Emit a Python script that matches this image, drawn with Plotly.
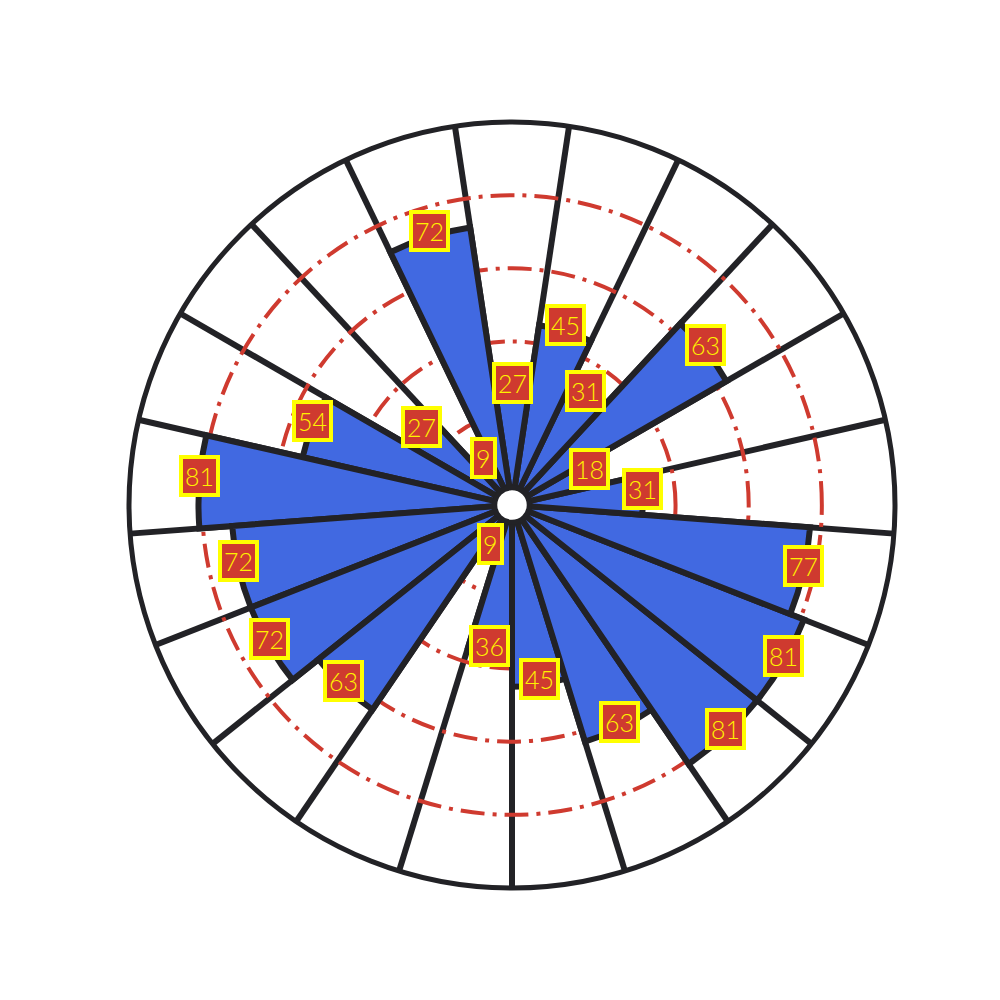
import math
import plotly.graph_objects as go

# Data (sectors start at the bottom and run counter-clockwise)
values = [45, 63, 81, 81, 77, 31, 18, 63, 31, 45, 27, 72, 9, 27, 54, 81, 72, 72, 63, 9, 36]
labels = [str(v) for v in values]
radial_ticks = [20, 40, 60, 80]
r_max = 100
start_angle = -90

n = len(values)
sector = 360 / n
thetas = [start_angle + (i + 0.5) * sector for i in range(n)]
boundaries = [(start_angle + i * sector) % 360 for i in range(n)]

DARK = "#222226"
RED = "#cf3a2f"
YELLOW = "#ffff00"
BLUE = "#4169E1"
HOLE = 0.045

fig = go.Figure(
    go.Barpolar(
        r=values,
        theta=thetas,
        width=[sector] * n,
        marker=dict(color=BLUE, line=dict(color=DARK, width=6)),
        hoverinfo="skip",
    )
)

annotations = []
for v, t, lab in zip(values, thetas, labels):
    rf = HOLE + (1 - HOLE) * v / r_max
    a = math.radians(t)
    annotations.append(dict(
        x=0.5 + 0.5 * rf * math.cos(a),
        y=0.5 + 0.5 * rf * math.sin(a),
        xref="paper", yref="paper",
        text=lab, showarrow=False, yshift=6,
        bgcolor=RED, bordercolor=YELLOW, borderwidth=4, borderpad=2,
        font=dict(color="#fff200", size=25, family="Lato", weight=300),
        xanchor="center", yanchor="middle",
    ))

fig.update_layout(
    width=1000, height=1000,
    margin=dict(l=121, r=113, t=114, b=120),
    paper_bgcolor="white",
    showlegend=False,
    annotations=annotations,
    polar=dict(
        domain=dict(x=[0, 1], y=[0, 1]),
        hole=HOLE,
        bgcolor="white",
        radialaxis=dict(
            range=[0, r_max], tickvals=radial_ticks, showticklabels=False,
            ticks="", showline=False, gridcolor=RED,
            griddash="24px,8px,4px,8px", gridwidth=3.5,
        ),
        angularaxis=dict(
            tickmode="array", tickvals=boundaries, showticklabels=False, ticks="",
            gridcolor=DARK, gridwidth=6, showline=True, linecolor=DARK, linewidth=5,
            rotation=0, direction="counterclockwise",
        ),
    ),
)

fig.write_html("out.html")
